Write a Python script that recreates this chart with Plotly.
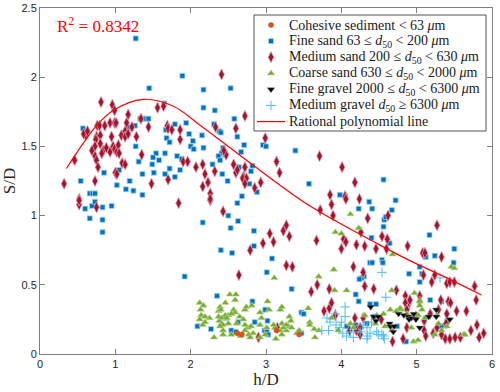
import plotly.graph_objects as go

# ---------------- data ----------------
fine_sand = [
(1.27,2.28),(1.45,1.92),(1.89,2.01),(1.65,1.81),(0.57,1.63),(1.33,1.70),(1.38,1.70),(1.41,1.70),(1.44,1.70),(1.26,1.65),
(1.21,1.63),(1.13,1.60),(1.18,1.64),(1.79,1.66),(1.94,1.67),(1.98,1.59),(2.03,1.54),(2.00,1.50),(2.04,1.48),(1.67,1.62),
(1.68,1.56),(1.72,1.53),(1.54,1.45),(1.66,1.45),(1.82,1.43),(1.88,1.41),(1.27,1.50),(1.50,1.42),(1.31,1.39),(1.49,1.37),
(1.51,1.31),(1.58,1.40),(1.72,1.34),(1.86,1.33),(1.79,1.28),(1.66,1.30),(0.85,1.31),(1.05,1.33),(1.36,1.30),(0.54,1.25),
(0.66,1.16),(0.70,1.16),(0.73,1.16),(1.02,1.22),(1.14,1.19),(1.24,1.18),(1.36,1.15),(1.19,1.25),
(0.60,1.05),(0.66,0.98),(0.69,1.07),(0.73,1.10),(0.83,1.06),(0.83,0.97),(0.83,0.88),(0.95,1.07),(2.16,0.95),(2.40,0.75),
(2.55,0.73),(2.50,1.00),(2.53,0.91),(2.62,1.09),(2.63,0.96),
(2.17,1.91),(2.53,1.92),(2.17,1.78),(2.32,1.76),(2.58,1.70),(2.62,1.57),(2.31,1.66),(2.38,1.61),(2.40,1.60),(2.15,1.58),
(2.17,1.49),(2.43,1.49),(2.41,1.45),(2.37,1.43),(2.39,1.40),(2.46,1.44),(2.67,1.46),(2.71,1.51),(2.96,1.51),(3.00,1.50),
(3.39,1.47),(2.29,1.37),(2.42,1.30),(2.49,1.25),(2.64,1.35),(2.80,1.32),(2.82,1.36),(2.78,1.23),(2.88,1.17),(2.68,1.14),
(3.57,1.23),(3.98,1.15),(4.05,1.14),
(4.56,1.26),(4.37,1.10),(4.41,1.05),(4.23,1.05),(4.72,1.11),(4.67,1.04),(4.57,0.97),(4.59,0.99),(4.56,0.92),(5.17,0.86),(4.40,0.84),
(2.84,0.89),(2.84,0.78),(3.08,0.69),(4.64,0.80),(4.38,0.66),(4.41,0.66),(4.54,0.68),(4.55,0.66),(5.24,0.71),(5.12,0.70),
(5.50,0.76),(5.49,0.66),(4.90,0.58),(5.04,0.63),(5.07,0.58),(5.04,0.52),(4.30,0.56),(4.27,0.55),(4.24,0.54),(4.19,0.43),
(4.23,0.38),(4.38,0.36),(4.46,0.36),(5.18,0.39),(5.33,0.38),(4.07,0.20),(4.19,0.21),(4.34,0.22),(4.43,0.27),(4.74,0.20),
(4.86,0.09),(5.33,0.20),(5.40,0.23),
(1.92,0.56),(3.01,0.59),(2.35,0.42),(3.34,0.47),(2.82,0.38),(2.46,0.26),(2.09,0.20),(2.27,0.18),(2.63,0.23),(2.54,0.17),
(2.60,0.16),(2.85,0.23),(3.02,0.24),(2.99,0.32),(2.98,0.17),(3.01,0.16),(3.03,0.14),(3.47,0.30),(3.50,0.29),(3.47,0.15),
]
fine_sand_x = [p[0] for p in fine_sand]
fine_sand_y = [p[1] for p in fine_sand]

medium_sand = [
(0.32,1.23),(0.46,1.40),(0.52,1.12),(0.61,1.58),(0.58,1.59),(0.63,1.61),(0.81,1.82),(0.96,1.80),(0.99,1.76),(0.76,1.65),
(0.79,1.65),(0.86,1.65),(0.93,1.67),(0.99,1.67),(1.01,1.67),(0.75,1.57),(0.80,1.58),(0.74,1.55),(0.73,1.50),(0.69,1.47),
(0.73,1.43),(0.80,1.52),(0.84,1.47),(0.88,1.49),(0.93,1.46),(0.82,1.45),(0.75,1.40),(0.77,1.35),(0.73,1.25),(0.95,1.57),
(0.97,1.50),(0.99,1.48),(1.02,1.46),(1.04,1.51),(1.05,1.45),(1.08,1.58),(1.13,1.61),(1.13,1.57),(1.17,1.59),(1.22,1.64),
(1.17,1.73),(1.15,1.67),(1.34,1.70),(1.28,1.57),(1.44,1.64),(1.56,1.78),(1.64,1.79),(1.69,1.65),(1.70,1.63),(1.75,1.62),
(1.86,1.55),(1.86,1.62),(1.35,1.44),(1.09,1.38),(1.13,1.37),(1.00,1.31),(1.02,1.30),(1.48,1.23),(1.70,1.26),(1.90,1.39),
(1.96,1.39),(2.07,1.35),
(0.52,1.08),(0.52,1.11),(0.75,1.06),(1.84,1.09),(2.26,1.11),(2.43,1.03),(2.79,0.75),
(2.41,2.02),(2.72,1.72),(2.33,1.64),(2.60,1.63),(2.99,1.56),(2.47,1.44),(2.44,1.47),(2.57,1.37),(2.60,1.31),(2.62,1.33),
(2.72,1.35),(2.70,1.28),(2.69,1.27),(2.74,1.27),(2.72,1.23),(2.93,1.24),(2.85,1.20),(3.14,1.39),(3.18,1.31),(3.71,1.43),
(4.01,1.35),(3.85,1.15),(2.16,1.37),(2.19,1.30),(2.32,1.32),(2.23,1.24),(2.16,1.21),(2.26,1.16),(2.26,1.12),
(4.18,1.24),(4.05,1.14),(4.06,1.12),(4.24,1.12),(4.35,0.98),(4.62,1.00),(5.27,0.93),(4.54,0.85),(4.61,0.83),(4.26,0.88),
(3.72,1.04),(3.87,1.08),(3.89,1.00),(3.67,0.82),(4.00,0.76),(4.03,0.83),(4.06,0.81),(4.20,0.79),(4.31,0.78),(4.46,0.76),
(4.60,0.76),(4.88,0.78),(5.08,0.73),(5.11,0.73),(5.33,0.70),(3.05,0.87),(3.23,0.89),(3.27,0.93),(2.96,0.80),(3.10,0.81),
(3.31,0.85),
(3.27,0.64),(3.35,0.63),(2.64,0.57),(3.68,0.50),(3.60,0.45),(2.90,0.12),(3.15,0.19),
(4.16,0.63),(4.29,0.59),(3.84,0.47),(4.31,0.49),(4.43,0.47),(4.73,0.46),(4.85,0.42),(4.90,0.37),(5.04,0.42),(5.09,0.57),
(5.20,0.52),(5.24,0.57),(5.40,0.51),(5.44,0.52),(5.50,0.52),(5.77,0.49),(5.79,0.39),(5.66,0.31),(5.53,0.31),(5.42,0.38),
(5.45,0.37),(5.32,0.39),(5.29,0.32),(5.40,0.29),(5.39,0.22),(5.27,0.19),(5.22,0.15),(5.33,0.14),(5.38,0.11),(5.44,0.11),
(5.51,0.12),(5.58,0.12),(5.72,0.17),(5.83,0.12),(5.89,0.15),(5.80,0.21),(3.77,0.31),(3.84,0.33),(3.87,0.37),(3.92,0.28),
(4.18,0.26),(4.25,0.19),(4.29,0.26),(4.11,0.17),(4.20,0.17),(4.25,0.14),(4.68,0.09),(4.82,0.11),(4.87,0.19),(4.85,0.37),
(4.91,0.39),(5.04,0.38),(5.10,0.24),(5.10,0.17),(5.12,0.13),(5.18,0.29),(4.99,0.27),(4.87,0.32),(4.53,0.25),
]
medium_sand_x = [p[0] for p in medium_sand]
medium_sand_y = [p[1] for p in medium_sand]

coarse_sand = [
(2.12,0.37),(2.17,0.35),(2.13,0.32),(2.14,0.28),(2.25,0.26),(2.19,0.23),(2.16,0.21),(2.31,0.12),(2.39,0.34),(2.37,0.31),
(2.40,0.32),(2.52,0.43),(2.60,0.43),(2.59,0.39),(2.46,0.37),(2.57,0.32),(2.59,0.30),(2.50,0.28),(2.54,0.29),(2.38,0.24),
(2.41,0.22),(2.43,0.21),(2.39,0.20),(2.43,0.17),(2.43,0.14),(2.54,0.14),(2.66,0.13),(2.72,0.32),(2.74,0.34),(2.81,0.35),
(2.76,0.19),(2.80,0.20),(2.72,0.17),(2.77,0.14),(2.79,0.12),(2.83,0.15),(2.92,0.12),(2.99,0.14),(3.02,0.38),(2.92,0.30),
(3.04,0.32),(3.11,0.55),(3.19,0.32),(3.21,0.34),(3.12,0.19),(3.19,0.17),(3.31,0.27),(3.33,0.24),(3.30,0.20),(3.27,0.17),
(3.34,0.19),(3.13,0.11),(3.21,0.14),(3.41,0.15),(3.44,0.17),(3.58,0.23),(3.58,0.21),(3.64,0.18),(3.70,0.17),(3.65,0.12),
(3.70,0.56),(3.56,0.33),
(2.12,0.25),(2.19,0.27),(2.37,0.27),(2.41,0.26),(2.46,0.28),(2.48,0.26),(2.50,0.22),(2.61,0.22),(2.65,0.27),(2.70,0.25),
(2.72,0.21),(2.92,0.21),(2.94,0.26),(3.10,0.21),(3.21,0.22),(3.23,0.19),(3.27,0.21),(3.01,0.19),
(4.12,1.01),(3.92,0.88),(4.00,0.87),(4.23,0.91),(4.68,0.72),(5.46,0.63),(5.50,0.62),(3.90,0.61),(3.91,0.46),(4.07,0.46),
(4.67,0.46),(4.97,0.44),(5.04,0.38),(3.87,0.26),(3.96,0.17),(4.12,0.22),(4.16,0.19),(4.31,0.28),(4.47,0.28),(4.56,0.29),
(4.65,0.32),(4.73,0.31),(4.80,0.32),(4.87,0.29),(5.02,0.28),(5.07,0.32),(5.11,0.26),(5.27,0.28),(5.29,0.22),(5.33,0.17),
(5.40,0.20),(4.93,0.19),(4.96,0.09),(5.24,0.14),(5.62,0.14),(5.04,0.35),(4.78,0.33),(4.45,0.22),(4.58,0.20),(4.67,0.17),
(5.64,0.14),(5.02,0.10),
]
coarse_sand_x = [p[0] for p in coarse_sand]
coarse_sand_y = [p[1] for p in coarse_sand]

medium_gravel = [
(4.54,0.59),(4.59,0.41),(3.81,0.26),(3.85,0.23),(3.93,0.21),(3.98,0.19),(4.00,0.23),(4.05,0.27),(4.02,0.15),(4.07,0.13),
(4.12,0.16),(4.34,0.19),(4.35,0.13),(4.38,0.15),(3.83,0.17),(4.29,0.21),(4.25,0.16),(4.47,0.16),(4.54,0.14),(4.56,0.13),
(4.05,0.34),(3.92,0.29),(3.74,0.17),(4.16,0.12),(4.34,0.11),(4.49,0.14),(4.57,0.11),(4.40,0.23),(5.31,0.55),
]
medium_gravel_x = [p[0] for p in medium_gravel]
medium_gravel_y = [p[1] for p in medium_gravel]

fine_gravel = [
(4.39,0.34),(4.43,0.27),(4.49,0.27),(4.46,0.24),(4.64,0.22),(4.65,0.20),(4.70,0.20),(4.69,0.16),(4.76,0.29),(4.83,0.28),
(4.89,0.27),(4.90,0.25),(4.96,0.29),(4.93,0.26),(4.99,0.25),(5.04,0.19),(5.16,0.27),(5.26,0.32),(5.44,0.25),(5.26,0.27),
]
fine_gravel_x = [p[0] for p in fine_gravel]
fine_gravel_y = [p[1] for p in fine_gravel]

cohesive_x = [2.62, 2.68, 3.14, 3.44]
cohesive_y = [0.15, 0.14, 0.17, 0.14]

fit_x = [0.35, 0.57, 0.75, 0.97, 1.37, 1.77, 2.12, 2.57, 2.79, 3.47, 3.98, 4.40, 4.89, 5.40, 5.86]
fit_y = [1.34, 1.52, 1.65, 1.76, 1.84, 1.79, 1.655, 1.47, 1.38, 1.11, 0.944, 0.82, 0.68, 0.55, 0.426]

r2_text = "R<sup>2</sup> = 0.8342"
legend_names = [
    "Cohesive sediment < 63 <i>μ</i>m",
    "Fine sand 63 ≤ <i>d</i><sub>50</sub> < 200 <i>μ</i>m",
    "Medium sand 200 ≤ <i>d</i><sub>50</sub> < 630 <i>μ</i>m",
    "Coarse sand 630 ≤ <i>d</i><sub>50</sub> < 2000 <i>μ</i>m",
    "Fine gravel 2000 ≤ <i>d</i><sub>50</sub> < 6300 <i>μ</i>m",
    "Medium gravel <i>d</i><sub>50</sub> ≥ 6300 <i>μ</i>m",
    "Rational polynomial line",
]
x_ticks = [0, 1, 2, 3, 4, 5, 6]
y_ticks = [0, 0.5, 1, 1.5, 2, 2.5]
y_tick_text = ["0", "0.5", "1", "1.5", "2", "2.5"]

# ---------------- styles ----------------
W, H = 500, 392
ML, MR, MT, MB = 40, 8, 8, 38
PW, PH = W - ML - MR, H - MT - MB

def px_x(p):  # pixel -> paper
    return (p - ML) / PW

def px_y(p):
    return (H - MB - p) / PH

styles = {
    "cohesive": dict(symbol="circle", size=5.5, color="#D95319", line=dict(width=0)),
    "fine_sand": dict(symbol="square", size=5, color="#0072BD", line=dict(color="#9fd0ef", width=0.8)),
    "medium_sand": dict(symbol="diamond-tall", size=8, color="#A2142F", line=dict(color="#d9a0aa", width=0.8)),
    "coarse_sand": dict(symbol="triangle-up", size=6.5, color="#77AC30", line=dict(color="#bcd99a", width=0.6)),
    "fine_gravel": dict(symbol="triangle-down", size=6.5, color="#000000", line=dict(color="#888888", width=0.5)),
    "medium_gravel": dict(symbol="cross-thin", size=7, color="#4DBEEE", line=dict(color="#4DBEEE", width=1)),
}
line_color = "#FF0000"

fig = go.Figure()

fig.add_trace(go.Scatter(x=fine_sand_x, y=fine_sand_y, mode="markers", name=legend_names[1],
                         marker=styles["fine_sand"], showlegend=False))
fig.add_trace(go.Scatter(x=medium_sand_x, y=medium_sand_y, mode="markers", name=legend_names[2],
                         marker=styles["medium_sand"], showlegend=False))
fig.add_trace(go.Scatter(x=coarse_sand_x, y=coarse_sand_y, mode="markers", name=legend_names[3],
                         marker=styles["coarse_sand"], showlegend=False))
fig.add_trace(go.Scatter(x=medium_gravel_x, y=medium_gravel_y, mode="markers", name=legend_names[5],
                         marker=styles["medium_gravel"], showlegend=False))
fig.add_trace(go.Scatter(x=cohesive_x, y=cohesive_y, mode="markers", name=legend_names[0],
                         marker=styles["cohesive"], showlegend=False))
fig.add_trace(go.Scatter(x=fine_gravel_x, y=fine_gravel_y, mode="markers", name=legend_names[4],
                         marker=styles["fine_gravel"], showlegend=False))
fig.add_trace(go.Scatter(x=fit_x, y=fit_y, mode="lines", name=legend_names[6], showlegend=False,
                         line=dict(color=line_color, width=1.2, shape="spline", smoothing=1.0)))

# ---------------- manual legend (overlay axes in paper units) ----------------
box_l, box_r, box_t, box_b = px_x(254), px_x(486), px_y(15), px_y(131)
fig.add_trace(go.Scatter(x=[box_l, box_r, box_r, box_l, box_l], y=[box_b, box_b, box_t, box_t, box_b],
                         mode="lines", fill="toself", fillcolor="white",
                         line=dict(color="#262626", width=0.8), xaxis="x2", yaxis="y2",
                         hoverinfo="skip", showlegend=False))
order = ["cohesive", "fine_sand", "medium_sand", "coarse_sand", "fine_gravel", "medium_gravel"]
row_y = [px_y(25 + 16.1 * k) for k in range(7)]
for k, key in enumerate(order):
    fig.add_trace(go.Scatter(x=[px_x(271)], y=[row_y[k]], mode="markers", marker=styles[key],
                             xaxis="x2", yaxis="y2", hoverinfo="skip", showlegend=False))
fig.add_trace(go.Scatter(x=[px_x(257), px_x(285)], y=[row_y[6], row_y[6]], mode="lines",
                         line=dict(color=line_color, width=1.2), xaxis="x2", yaxis="y2",
                         hoverinfo="skip", showlegend=False))
for k, name in enumerate(legend_names):
    fig.add_annotation(x=px_x(287), y=row_y[k], xref="paper", yref="paper", text=name,
                       showarrow=False, xanchor="left", yanchor="middle",
                       font=dict(family="Liberation Serif", size=14, color="#1a1a1a"))

fig.add_annotation(x=0.2, y=2.377, xref="x", yref="y", text=r2_text, showarrow=False, xanchor="left",
                   font=dict(family="Liberation Serif", size=17, color="#FF0000"))

axis_common = dict(showgrid=False, zeroline=False, showline=True, linecolor="#808080", linewidth=1,
                   mirror="ticks", ticks="inside", ticklen=5, tickcolor="#808080", automargin=False,
                   tickfont=dict(family="Liberation Sans", size=11, color="#262626"))

fig.update_xaxes(range=[0, 6], tickvals=x_ticks, ticktext=[str(v) for v in x_ticks],
                 title=dict(text="h/D", font=dict(family="Liberation Serif", size=17, color="#262626"), standoff=2),
                 **axis_common)
fig.update_yaxes(range=[0, 2.5], tickvals=y_ticks, ticktext=y_tick_text,
                 title=dict(text="S/D", font=dict(family="Liberation Serif", size=17, color="#262626"), standoff=2),
                 **axis_common)

fig.update_layout(
    width=W, height=H,
    margin=dict(l=ML, r=MR, t=MT, b=MB),
    plot_bgcolor="white", paper_bgcolor="white",
    showlegend=False,
    hovermode=False,
    xaxis2=dict(overlaying="x", range=[0, 1], visible=False, fixedrange=True),
    yaxis2=dict(overlaying="y", range=[0, 1], visible=False, fixedrange=True),
)

fig.write_html("out.html", config={"displayModeBar": False},
               post_script="document.body.style.margin='0';")
